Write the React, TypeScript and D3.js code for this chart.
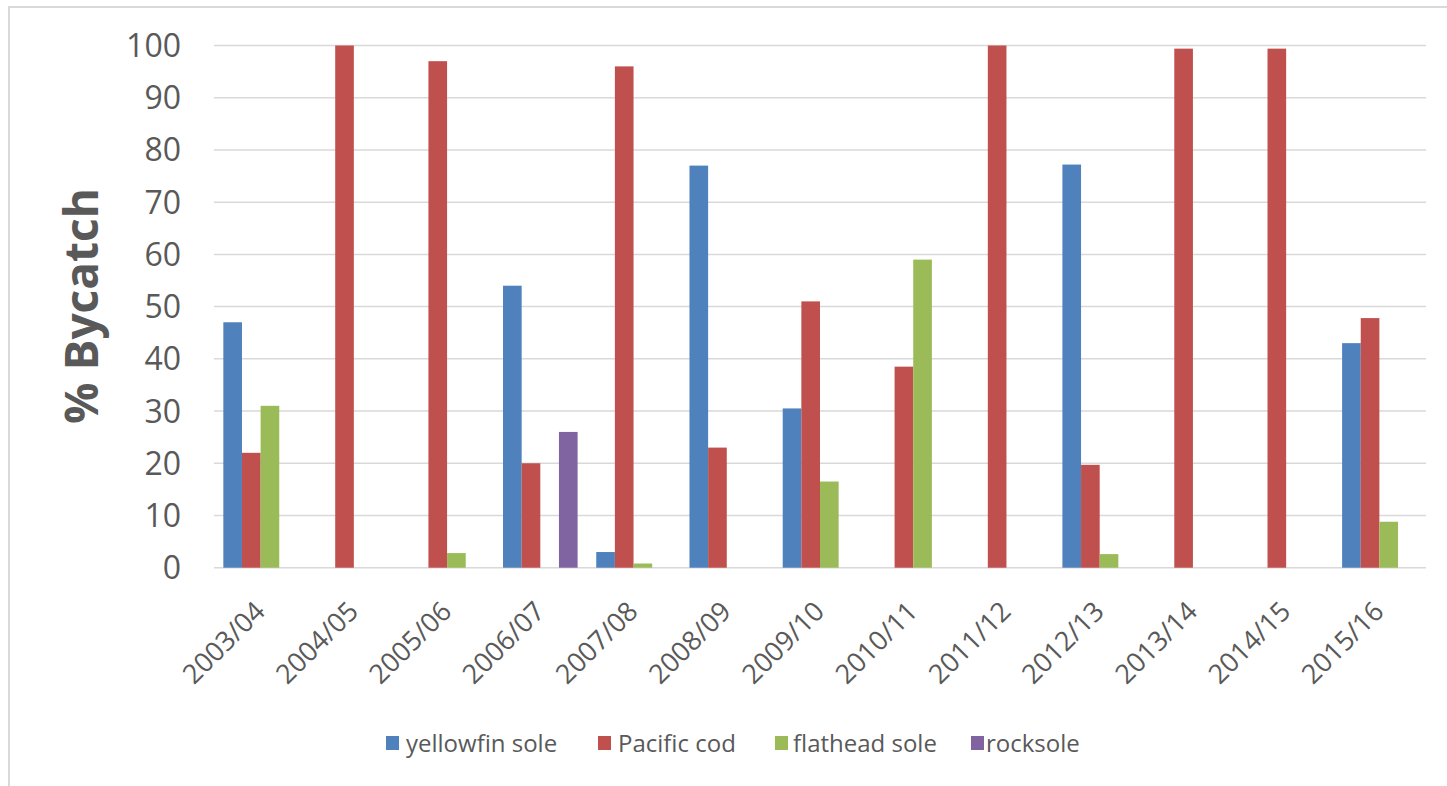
import React from "react";
import * as d3 from "d3";

const categories = [
  "2003/04", "2004/05", "2005/06", "2006/07", "2007/08", "2008/09", "2009/10",
  "2010/11", "2011/12", "2012/13", "2013/14", "2014/15", "2015/16",
];
const seriesNames = ["yellowfin sole", "Pacific cod", "flathead sole", "rocksole"];
const yellowfinSole = [47, 0, 0, 54, 3, 77, 30.5, 0, 0, 77.2, 0, 0, 43];
const pacificCod = [22, 100, 97, 20, 96, 23, 51, 38.5, 100, 19.7, 99.4, 99.4, 47.8];
const flatheadSole = [31, 0, 2.8, 0, 0.8, 0, 16.5, 59, 0, 2.6, 0, 0, 8.8];
const rocksole = [0, 0, 0, 26, 0, 0, 0, 0, 0, 0, 0, 0, 0];
const yTicks = [0, 10, 20, 30, 40, 50, 60, 70, 80, 90, 100];
const colors = ["#4F81BD", "#C0504D", "#9BBB59", "#8064A2"];

const W = 1447;
const H = 786;
const plot = { left: 214, right: 1426, top: 45.5, bottom: 567.7 };

export default function App() {
  const seriesData = [yellowfinSole, pacificCod, flatheadSole, rocksole];
  const x0 = d3.scaleBand<string>().domain(categories).range([plot.left, plot.right]).paddingInner(0).paddingOuter(0);
  const bw = x0.bandwidth();
  const x1 = d3
    .scaleBand<string>()
    .domain(seriesNames)
    .range([bw * 0.1, bw * 0.9])
    .padding(0);
  const y = d3.scaleLinear().domain([0, 100]).range([plot.bottom, plot.top]);
  const textColor = "#595959";
  const font = "'Open Sans', 'Noto Sans', sans-serif";

  const legendItems = [
    { name: seriesNames[0], sx: 386, tx: 406 },
    { name: seriesNames[1], sx: 598, tx: 618 },
    { name: seriesNames[2], sx: 775, tx: 793 },
    { name: seriesNames[3], sx: 971, tx: 986 },
  ];

  return (
    <svg
      width={W}
      height={H}
      style={{ position: "absolute", left: 0, top: 0, background: "#fff" }}
      fontFamily={font}
    >
      <rect x={0} y={0} width={W} height={H} fill="#fff" />
      <rect x={9} y={7} width={W + 50} height={H + 50} fill="none" stroke="#d9d9d9" strokeWidth={2} />
      {yTicks.map((t) => (
        <g key={t}>
          <line x1={plot.left} x2={plot.right} y1={y(t)} y2={y(t)} stroke="#d9d9d9" strokeWidth={1.5} />
          <text
            x={181}
            y={y(t)}
            dy="0.36em"
            textAnchor="end"
            fontSize={32}
            fill={textColor}
          >
            {t}
          </text>
        </g>
      ))}
      <text
        transform={`translate(98, 306) rotate(-90)`}
        textAnchor="middle"
        fontSize={46}
        fontWeight="bold"
        fill={textColor}
      >
        % Bycatch
      </text>
      {categories.map((c, i) => (
        <g key={c} transform={`translate(${x0(c)}, 0)`}>
          {seriesData.map((s, j) =>
            s[i] > 0 ? (
              <rect
                key={j}
                x={x1(seriesNames[j])}
                y={y(s[i])}
                width={x1.bandwidth()}
                height={y(0) - y(s[i])}
                fill={colors[j]}
              />
            ) : null
          )}
        </g>
      ))}
      {categories.map((c) => (
        <text
          key={c}
          transform={`translate(${(x0(c) as number) + bw / 2 + 6}, 613) rotate(-45)`}
          textAnchor="end"
          fontSize={27}
          fill={textColor}
        >
          {c}
        </text>
      ))}
      {legendItems.map((l, j) => (
        <g key={l.name}>
          <rect x={l.sx} y={736} width={13} height={14} fill={colors[j]} />
          <text x={l.tx} y={743} dy="0.36em" fontSize={24} fill={textColor}>
            {l.name}
          </text>
        </g>
      ))}
    </svg>
  );
}
